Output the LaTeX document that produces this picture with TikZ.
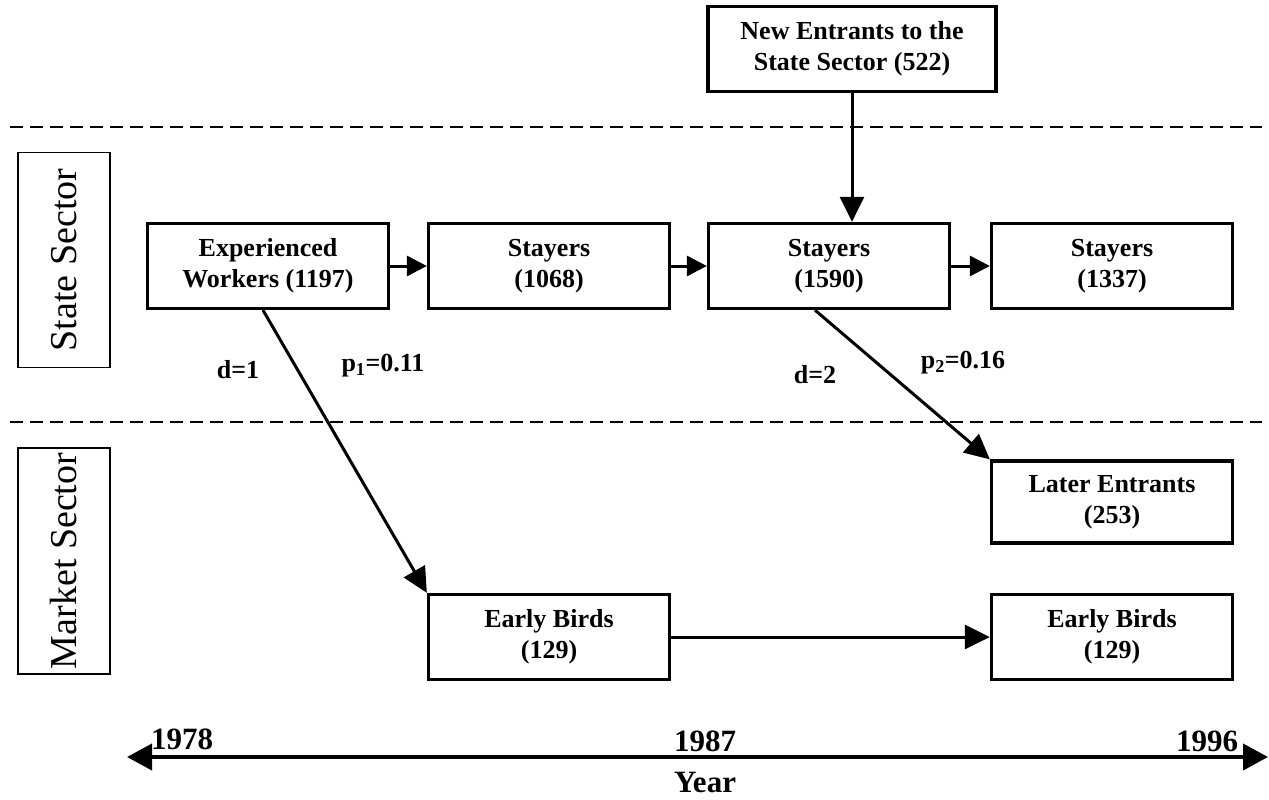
\documentclass[tikz,border=0pt]{standalone}
\usepackage{fontspec}
\setmainfont{Liberation Serif}
\usetikzlibrary{arrows.meta}

\begin{document}
\begin{tikzpicture}[x=1pt,y=-1pt,
  box/.style={draw, line width=3.3pt, inner sep=0pt, align=center, minimum width=241pt, minimum height=85pt, font=\bfseries\fontsize{26}{31}\selectfont},
  side/.style={draw, line width=1.3pt, rotate=90, inner sep=0pt, minimum height=92pt, font=\fontsize{38}{44}\selectfont},
  lab/.style={inner sep=0pt, font=\bfseries\fontsize{26}{31}\selectfont},
  yr/.style={inner sep=0pt, font=\bfseries\fontsize{31}{36}\selectfont},
  arr/.style={line width=3pt, -{Triangle[length=25pt,width=24pt]}},
  sarr/.style={line width=3pt, -{Triangle[length=20pt,width=20pt]}},
  sep/.style={line width=1.6pt, dash pattern=on 13pt off 7pt}]
\useasboundingbox (0,0) rectangle (1269,800);

% sectors
\draw[sep] (10,127) -- (1262,127);
\draw[sep] (10,422) -- (1262,422);
\node[side, minimum width=215pt] (ssec) at (64,260) {State Sector};
\node[side, minimum width=226pt] (msec) at (64,561) {Market Sector};

% boxes
\node[box, minimum width=288pt] (newent) at (852,49) {New Entrants to the\\State Sector (522)};
\node[box] (expw) at (268,266) {Experienced\\Workers (1197)};
\node[box] (stay1) at (549,266) {Stayers\\(1068)};
\node[box] (stay2) at (829,266) {Stayers\\(1590)};
\node[box] (stay3) at (1112,266) {Stayers\\(1337)};
\node[box, minimum height=82pt] (later) at (1112,502) {Later Entrants\\(253)};
\node[box] (early1) at (549,637) {Early Birds\\(129)};
\node[box] (early2) at (1112,637) {Early Birds\\(129)};

% flows
\draw[sarr] (expw) -- (stay1);
\draw[sarr] (stay1) -- (stay2);
\draw[sarr] (stay2) -- (stay3);
\draw[arr] (newent.south) -- (newent.south |- stay2.north);
\draw[arr] ([xshift=-5pt]expw.south) -- (early1.north west);
\draw[arr] ([xshift=-14pt]stay2.south) -- (later.north west);
\draw[arr] (early1) -- (early2);

\node[lab] (d1) at (238,370) {d=1};
\node[lab] (p1) at (383,366) {p\textsubscript{1}=0.11};
\node[lab] (d2) at (815,375) {d=2};
\node[lab] (p2) at (963,363) {p\textsubscript{2}=0.16};

% time axis
\coordinate (tl) at (127,757);
\coordinate (tr) at (1268,757);
\draw[line width=4pt, {Triangle[length=25pt,width=26pt]}-{Triangle[length=25pt,width=26pt]}] (tl) -- (tr);
\node[yr] (y78) at (182,739) {1978};
\node[yr] (y87) at (705,741) {1987};
\node[yr] (y96) at (1207,741) {1996};
\node[yr] (year) at (705,782) {Year};
\end{tikzpicture}
\end{document}
